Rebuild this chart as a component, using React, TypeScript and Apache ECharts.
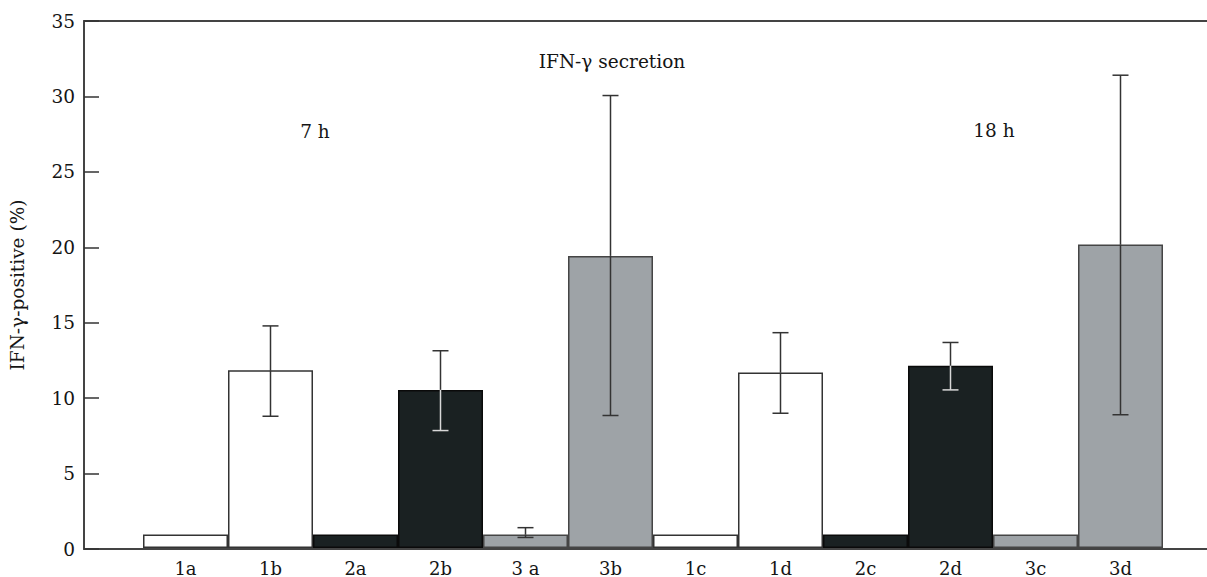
import React, { useEffect, useRef } from "react";
import * as echarts from "echarts";

const categories = ["1a", "1b", "2a", "2b", "3 a", "3b", "1c", "1d", "2c", "2d", "3c", "3d"];
const values = [0.9, 11.8, 0.9, 10.5, 0.9, 19.4, 0.9, 11.65, 0.9, 12.1, 0.9, 20.15];
const errLow: (number | null)[] = [null, 8.75, null, 7.8, 0.7, 8.8, null, 8.95, null, 10.5, null, 8.85];
const errHigh: (number | null)[] = [null, 14.75, null, 13.1, 1.35, 30.05, null, 14.3, null, 13.65, null, 31.4];
const fillKind = ["white", "white", "black", "black", "gray", "gray", "white", "white", "black", "black", "gray", "gray"];
const yTicks = [0, 5, 10, 15, 20, 25, 30, 35];

const FONT = "DejaVu Serif";
const TXT = "#151515";
const fills: Record<string, { fill: string; border: string; errIn: string }> = {
  white: { fill: "#ffffff", border: "#333333", errIn: "#333333" },
  black: { fill: "#1a2122", border: "#0a0a0a", errIn: "#d8d8d8" },
  gray: { fill: "#9ea3a7", border: "#454545", errIn: "#333333" },
};

export default function App() {
  const ref = useRef<HTMLDivElement>(null);
  useEffect(() => {
    if (!ref.current) return;
    const chart = echarts.init(ref.current, undefined, { renderer: "svg" });
    const errData = categories
      .map((c, i) => [i, errLow[i], errHigh[i], values[i]])
      .filter((d) => d[1] != null);
    chart.setOption({
      animation: false,
      backgroundColor: "#ffffff",
      grid: [
        { left: 82, right: -10, top: 21, bottom: 28 },
        { left: 143, right: 44, top: 21, bottom: 28 },
      ],
      xAxis: [
        {
          gridIndex: 0, type: "value", min: 0, max: 1, position: "bottom",
          axisLine: { show: true, lineStyle: { color: "#444", width: 2 } },
          axisTick: { show: false }, axisLabel: { show: false }, splitLine: { show: false },
        },
        {
          gridIndex: 0, type: "value", min: 0, max: 1, position: "top",
          axisLine: { show: true, lineStyle: { color: "#444", width: 2 } },
          axisTick: { show: false }, axisLabel: { show: false }, splitLine: { show: false },
        },
        {
          gridIndex: 1, type: "category", data: categories, boundaryGap: true,
          axisLine: { show: false }, axisTick: { show: false },
          axisLabel: { fontFamily: FONT, fontSize: 18, color: TXT, margin: 11 },
        },
      ],
      yAxis: [
        {
          gridIndex: 0, type: "value", min: 0, max: 35, interval: 5,
          axisLine: { show: true, lineStyle: { color: "#444", width: 2 } },
          axisTick: { show: true, inside: true, length: 15, lineStyle: { color: "#333", width: 1.5 } },
          axisLabel: {
            fontFamily: FONT, fontSize: 18.5, color: TXT, margin: 9,
            formatter: (v: number) => (yTicks.includes(v) ? String(v) : ""),
          },
          splitLine: { show: false },
          name: "IFN-γ-positive (%)", nameLocation: "middle", nameGap: 57,
          nameTextStyle: { fontFamily: FONT, fontSize: 18.5, color: TXT },
        },
        {
          gridIndex: 1, type: "value", min: 0, max: 35, interval: 5, show: false,
        },
      ],
      graphic: [
        { type: "text", x: 612, y: 61, style: { text: "IFN-γ secretion", font: `18.5px "${FONT}"`, fill: TXT, align: "center", verticalAlign: "middle" } },
        { type: "text", x: 315, y: 131, style: { text: "7 h", font: `18.5px "${FONT}"`, fill: TXT, align: "center", verticalAlign: "middle" } },
        { type: "text", x: 994, y: 130, style: { text: "18 h", font: `18.5px "${FONT}"`, fill: TXT, align: "center", verticalAlign: "middle" } },
      ],
      series: [
        {
          type: "bar", xAxisIndex: 2, yAxisIndex: 1, barWidth: "100%", barGap: "0%",
          data: values.map((v, i) => ({
            value: v,
            itemStyle: { color: fills[fillKind[i]].fill, borderColor: fills[fillKind[i]].border, borderWidth: 1.5 },
          })),
          z: 2,
        },
        {
          type: "custom", xAxisIndex: 2, yAxisIndex: 1, z: 5,
          data: errData,
          encode: { x: 0, y: [1, 2] },
          renderItem: (params: any, api: any) => {
            const idx = api.value(0);
            const lo = api.coord([idx, api.value(1)]);
            const hi = api.coord([idx, api.value(2)]);
            const mid = api.coord([idx, api.value(3)]);
            const inC = fills[fillKind[idx]].errIn;
            const outC = "#333333";
            const cap = 8;
            const st = (c: string) => ({ stroke: c, lineWidth: 1.5 });
            return {
              type: "group",
              children: [
                { type: "line", shape: { x1: hi[0], y1: hi[1], x2: mid[0], y2: mid[1] }, style: st(outC) },
                { type: "line", shape: { x1: mid[0], y1: mid[1], x2: lo[0], y2: lo[1] }, style: st(inC) },
                { type: "line", shape: { x1: hi[0] - cap, y1: hi[1], x2: hi[0] + cap, y2: hi[1] }, style: st(outC) },
                { type: "line", shape: { x1: lo[0] - cap, y1: lo[1], x2: lo[0] + cap, y2: lo[1] }, style: st(lo[1] > mid[1] ? inC : outC) },
              ],
            };
          },
        },
      ],
    });
    return () => chart.dispose();
  }, []);
  return <div ref={ref} style={{ width: 1207, height: 577, position: "absolute", left: 0, top: 0 }} />;
}
